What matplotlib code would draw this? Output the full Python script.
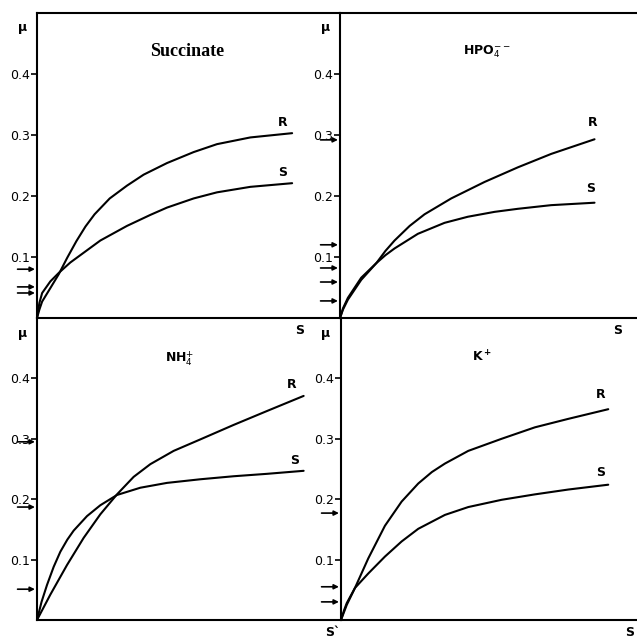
import matplotlib
matplotlib.use("Agg")
import matplotlib.pyplot as plt

W, H = 637, 640

# ---------------- data ----------------
ytick_vals = [0.1, 0.2, 0.3, 0.4]
ytick_labels = ["0.1", "0.2", "0.3", "0.4"]

# Succinate
succ_R_x = [0, 0.008, 0.017, 0.044, 0.072, 0.10, 0.13, 0.16, 0.19, 0.24, 0.297, 0.352, 0.429, 0.517, 0.594, 0.704, 0.842]
succ_R_y = [0, 0.014, 0.027, 0.049, 0.072, 0.099, 0.126, 0.150, 0.170, 0.196, 0.217, 0.235, 0.254, 0.272, 0.285, 0.296, 0.303]
succ_S_x = [0, 0.008, 0.017, 0.044, 0.072, 0.11, 0.154, 0.209, 0.297, 0.374, 0.429, 0.517, 0.594, 0.704, 0.842]
succ_S_y = [0, 0.025, 0.041, 0.060, 0.074, 0.091, 0.107, 0.127, 0.151, 0.169, 0.181, 0.196, 0.206, 0.215, 0.221]
succ_arrows = [0.080, 0.051, 0.041]

# HPO4--
hpo_R_x = [0, 0.010, 0.026, 0.070, 0.120, 0.150, 0.180, 0.230, 0.279, 0.367, 0.477, 0.587, 0.697, 0.840]
hpo_R_y = [0, 0.014, 0.030, 0.0625, 0.090, 0.110, 0.127, 0.151, 0.170, 0.196, 0.223, 0.247, 0.269, 0.293]
hpo_S_x = [0, 0.010, 0.026, 0.070, 0.120, 0.150, 0.180, 0.257, 0.345, 0.422, 0.510, 0.587, 0.697, 0.840]
hpo_S_y = [0, 0.016, 0.033, 0.066, 0.090, 0.103, 0.114, 0.138, 0.156, 0.166, 0.174, 0.179, 0.185, 0.189]
hpo_arrows = [0.292, 0.120, 0.082, 0.059, 0.028]

# NH4+
nh_R_x = [0, 0.044, 0.099, 0.154, 0.209, 0.264, 0.319, 0.374, 0.451, 0.539, 0.649, 0.759, 0.880]
nh_R_y = [0, 0.042, 0.091, 0.136, 0.175, 0.208, 0.237, 0.258, 0.280, 0.299, 0.323, 0.346, 0.371]
nh_S_x = [0, 0.015, 0.033, 0.055, 0.077, 0.100, 0.121, 0.165, 0.209, 0.264, 0.341, 0.429, 0.539, 0.649, 0.759, 0.880]
nh_S_y = [0, 0.030, 0.058, 0.088, 0.113, 0.133, 0.148, 0.172, 0.190, 0.207, 0.219, 0.227, 0.233, 0.238, 0.242, 0.247]
nh_arrows = [0.295, 0.187, 0.051]

# K+
k_R_x = [0, 0.019, 0.046, 0.090, 0.145, 0.200, 0.255, 0.300, 0.343, 0.420, 0.530, 0.640, 0.750, 0.882]
k_R_y = [0, 0.025, 0.053, 0.102, 0.156, 0.196, 0.226, 0.245, 0.259, 0.280, 0.300, 0.319, 0.333, 0.349]
k_S_x = [0, 0.010, 0.019, 0.046, 0.090, 0.145, 0.200, 0.255, 0.343, 0.420, 0.530, 0.640, 0.750, 0.882]
k_S_y = [0, 0.016, 0.028, 0.053, 0.077, 0.105, 0.130, 0.151, 0.174, 0.187, 0.199, 0.208, 0.216, 0.224]
k_arrows = [0.177, 0.055, 0.030]

# ---------------- figure ----------------
fig = plt.figure(figsize=(W / 100, H / 100), dpi=100)
plt.rcParams['font.family'] = ['DejaVu Sans']


def rect(l, r, t, b):
    return [l / W, 1 - b / H, (r - l) / W, (b - t) / H]


def fx(x):
    return x / W


def fy(y):
    return 1 - y / H


LW = 1.5
panels = [
    dict(rect=rect(37, 340, 13, 318), top=True, xmax=1.0,
         R=(succ_R_x, succ_R_y), S=(succ_S_x, succ_S_y), arrows=succ_arrows),
    dict(rect=rect(340, 637, 13, 318), top=True, xmax=297 / 303,
         R=(hpo_R_x, hpo_R_y), S=(hpo_S_x, hpo_S_y), arrows=hpo_arrows),
    dict(rect=rect(37, 341, 318, 620), top=False, xmax=304 / 303,
         R=(nh_R_x, nh_R_y), S=(nh_S_x, nh_S_y), arrows=nh_arrows),
    dict(rect=rect(341, 637, 318, 620), top=False, xmax=296 / 303,
         R=(k_R_x, k_R_y), S=(k_S_x, k_S_y), arrows=k_arrows),
]

for p in panels:
    ax = fig.add_axes(p['rect'])
    ax.set_xlim(0, p['xmax'])
    ax.set_ylim(0, 0.5)
    ax.patch.set_alpha(0)
    ax.plot(*p['R'], color='black', lw=LW, solid_capstyle='round',
            solid_joinstyle='round', clip_on=False)
    ax.plot(*p['S'], color='black', lw=LW, solid_capstyle='round',
            solid_joinstyle='round', clip_on=False)
    ax.spines['right'].set_visible(False)
    ax.spines['top'].set_visible(p['top'])
    for side in ['left', 'bottom', 'top']:
        ax.spines[side].set_linewidth(LW)
    ax.set_xticks([])
    ax.set_yticks(ytick_vals)
    ax.set_yticklabels(ytick_labels)
    ax.tick_params(axis='y', direction='out', length=4, width=1.2, pad=1, labelsize=9)
    for v in p['arrows']:
        ax.annotate('', xy=(0, v), xycoords=ax.get_yaxis_transform(),
                    xytext=(-14, 0), textcoords='offset points',
                    arrowprops=dict(arrowstyle='-|>', lw=1.2, color='black',
                                    mutation_scale=7, shrinkA=0, shrinkB=1.5))

# titles
fig.text(fx(187), fy(51), 'Succinate', family='Liberation Serif', weight='bold',
         fontsize=13, ha='center', va='center')
fig.text(fx(487), fy(52), r'HPO$_4^{--}$', fontsize=9, weight='bold', ha='center', va='center')
fig.text(fx(180), fy(359), r'NH$_4^{+}$', fontsize=9, weight='bold', ha='center', va='center')
fig.text(fx(482), fy(357), r'K$^{\bf +}$', fontsize=9, weight='bold', ha='center', va='center')

# curve labels
for (x, y, s) in [(283, 122, 'R'), (283, 172, 'S'),
                  (593, 122, 'R'), (591, 188, 'S'),
                  (292, 385, 'R'), (295, 461, 'S'),
                  (601, 395, 'R'), (601, 473, 'S')]:
    fig.text(fx(x), fy(y), s, fontsize=9, weight='bold', ha='center', va='center')

# axis labels
for (x, y) in [(23, 27), (326, 27), (23, 333), (326, 333)]:
    fig.text(fx(x), fy(y), 'µ', fontsize=9, weight='bold', ha='center', va='center')
for (x, y, s) in [(300, 330, 'S'), (618, 330, 'S'), (333, 633, 'S`'), (630, 633, 'S')]:
    fig.text(fx(x), fy(y), s, fontsize=9, weight='bold', ha='center', va='center')

fig.savefig('out.png', dpi=100)
